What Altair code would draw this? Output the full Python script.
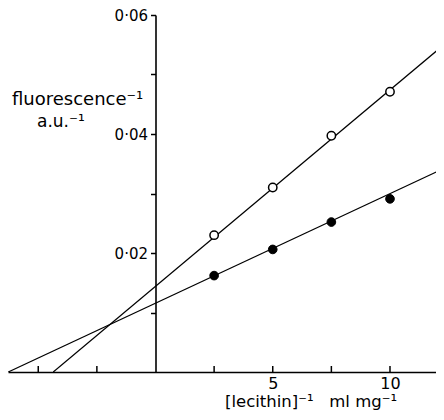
import altair as alt
import pandas as pd

# data
conc_inv = [2.5, 5, 7.5, 10]
open_vals = [0.0230, 0.0310, 0.0397, 0.0471]
filled_vals = [0.0162, 0.0206, 0.0252, 0.0291]

# fitted (extrapolated) lines: endpoints
open_line_x = [-4.36, 12.3]
open_line_y = [0.0, 0.0550]
filled_line_x = [-6.28, 12.3]
filled_line_y = [0.0, 0.0342]

x_ticks = [-5, -2.5, 2.5, 5, 7.5, 10]
x_labels = [5, 10]
y_ticks = [0.01, 0.02, 0.03, 0.04, 0.05, 0.06]

x_domain = [-6.29, 11.962]
y_domain = [0, 0.06]

FONT = "DejaVu Sans"
H = 357

pts = pd.DataFrame({
    "x": conc_inv * 2,
    "y": open_vals + filled_vals,
    "series": ["open"] * 4 + ["filled"] * 4,
})
lines = pd.DataFrame({
    "x": open_line_x + filled_line_x,
    "y": open_line_y + filled_line_y,
    "series": ["open", "open", "filled", "filled"],
})
ticks = pd.DataFrame({"x": x_ticks})

xs = alt.Scale(domain=x_domain, nice=False, zero=False)
ys = alt.Scale(domain=y_domain, nice=False, zero=False)

x_axis = alt.Axis(
    values=x_labels, ticks=False, grid=False, domainColor="black", domainWidth=1.6,
    labelFont=FONT, labelFontSize=16, labelColor="black", labelPadding=3, title=None,
    labelFlush=False)
y_axis = alt.Axis(
    values=y_ticks, grid=False, offset=-147.5, domainColor="black", domainWidth=1.6,
    tickColor="black", tickWidth=1.5, tickSize=5, labelFont=FONT, labelFontSize=15,
    labelColor="black", labelPadding=3, title=None,
    labelExpr="(round(datum.value*100) % 2 == 0) ? replace(format(datum.value, '.2f'), '.', '\u00b7') : ''")

line_layer = alt.Chart(lines).mark_line(color="black", strokeWidth=1.2, clip=True).encode(
    x=alt.X("x:Q", scale=xs, axis=x_axis),
    y=alt.Y("y:Q", scale=ys, axis=y_axis),
    detail="series:N",
)

open_pts = alt.Chart(pts).transform_filter(alt.datum.series == "open").mark_point(
    shape="circle", filled=True, fill="white", stroke="black", strokeWidth=1.5, size=70, opacity=1
).encode(x=alt.X("x:Q", scale=xs, axis=x_axis), y=alt.Y("y:Q", scale=ys, axis=y_axis))

filled_pts = alt.Chart(pts).transform_filter(alt.datum.series == "filled").mark_point(
    shape="circle", filled=True, fill="black", stroke="black", strokeWidth=1, size=75, opacity=1
).encode(x=alt.X("x:Q", scale=xs, axis=x_axis), y=alt.Y("y:Q", scale=ys, axis=y_axis))

tick_layer = alt.Chart(ticks).mark_rule(color="black", strokeWidth=1.5).encode(
    x=alt.X("x:Q", scale=xs, axis=x_axis), y=alt.value(H - 6), y2=alt.value(H)
)

def label(text, px, py, size=17):
    return alt.Chart(pd.DataFrame({"t": [text]})).mark_text(
        font=FONT, fontSize=size, align="left", baseline="alphabetic", color="black"
    ).encode(text="t:N", x=alt.value(px), y=alt.value(py))

t1 = label("fluorescence\u207b\u00b9", 4, 90, 18)
t2 = label("a.u.\u207b\u00b9", 29, 112, 17)
t3 = label("[lecithin]\u207b\u00b9\u00a0\u00a0\u00a0ml mg\u207b\u00b9", 217, 392, 16.5)

chart = alt.layer(line_layer, tick_layer, open_pts, filled_pts, t1, t2, t3).properties(
    width=428, height=H,
    padding={"left": 0, "top": 7, "right": 0, "bottom": 40},
    autosize=alt.AutoSizeParams(type="none"),
).configure(background="white").configure_view(stroke=None)

chart.save("out.html", embed_options={"renderer": "svg", "actions": False})
